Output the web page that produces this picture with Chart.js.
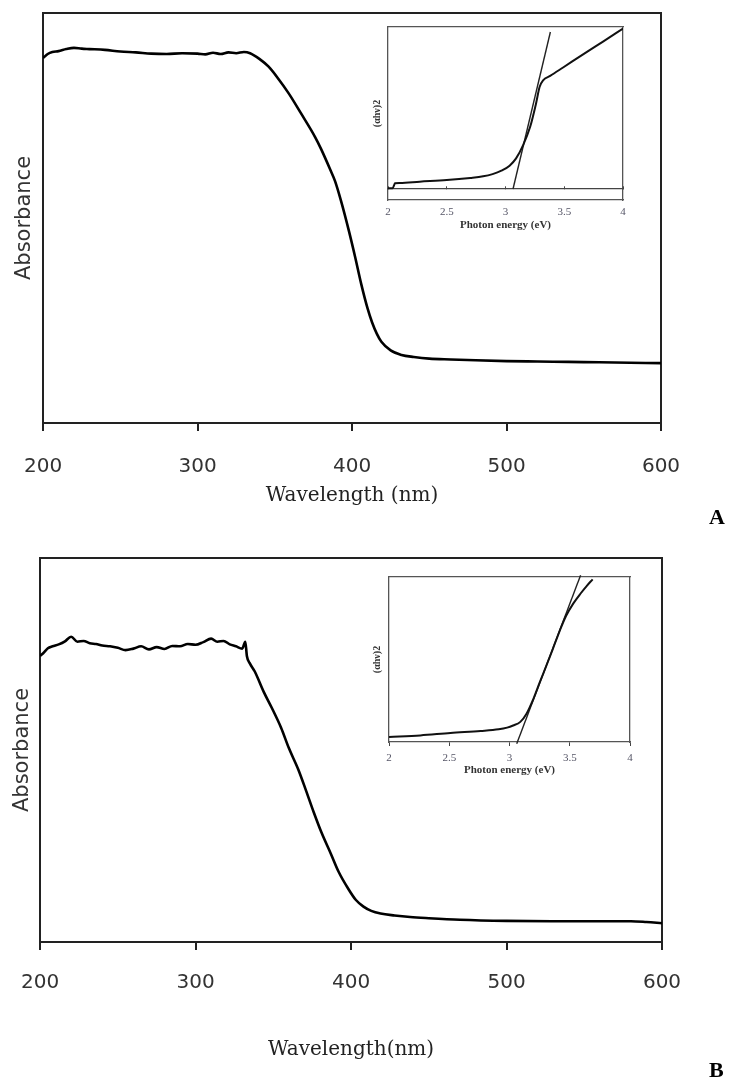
<!DOCTYPE html>
<html>
<head>
<meta charset="utf-8">
<script src="https://cdn.jsdelivr.net/npm/chart.js@4.4.1/dist/chart.umd.min.js"></script>
<style>
  body { margin: 0; background: #fff; }
  #page { position: relative; width: 733px; height: 1084px; background: #fff; overflow: hidden; }
  canvas { position: absolute; }
  .tag { position: absolute; font-family: 'Liberation Serif', serif; font-weight: bold; font-size: 22px; color: #000; }
</style>
</head>
<body>
<div id="page">
  <canvas id="mainA" width="733" height="520" style="left:0;top:0"></canvas>
  <canvas id="insetA" width="280" height="225" style="left:360px;top:15px"></canvas>
  <canvas id="mainB" width="733" height="564" style="left:0;top:520px"></canvas>
  <canvas id="insetB" width="280" height="225" style="left:360px;top:560px"></canvas>
  <div class="tag" style="left:709px;top:504px">A</div>
  <div class="tag" style="left:709px;top:1057px">B</div>
</div>
<script>
// ticks
const wavelengthTicks = [200, 300, 400, 500, 600]
const energyTicks = [2, 2.5, 3, 3.5, 4]

// panel A, main spectrum (absorbance in arbitrary units)
const wavelengthA = [200,203,206,210,215,220,225,230,240,250,260,270,280,290,300,305,310,315,320,325,330,334,340,346,352,359,367,376,380,386,389,393,398,402,406,410,413,416,419,425,432,440,450,464,480,500,520,540,560,580,600]
const absorbanceA = [0.890,0.900,0.905,0.907,0.912,0.915,0.913,0.912,0.910,0.906,0.904,0.901,0.900,0.902,0.901,0.899,0.903,0.900,0.904,0.902,0.905,0.902,0.888,0.869,0.841,0.804,0.755,0.698,0.668,0.617,0.590,0.540,0.468,0.405,0.338,0.280,0.245,0.218,0.198,0.177,0.166,0.161,0.157,0.155,0.153,0.151,0.150,0.149,0.148,0.147,0.146]

// panel A, inset (ahv)^2 vs photon energy
const energyA = [2.00,2.04,2.05,2.06,2.10,2.27,2.50,2.70,2.81,2.89,2.965,3.035,3.09,3.15,3.21,3.26,3.29,3.32,3.38,3.49,3.69,3.83,4.00]
const ahvA = [0.005,0.005,0.020,0.035,0.037,0.045,0.055,0.068,0.078,0.092,0.113,0.144,0.189,0.271,0.384,0.528,0.630,0.671,0.698,0.750,0.845,0.910,0.990]
const tangentEnergyA = [3.064, 3.382]
const tangentAhvA = [0, 0.969]

// panel B, main spectrum
const wavelengthB = [200,202,205,208,212,216,220,224,228,232,236,240,245,250,255,260,265,270,275,280,285,290,295,300,305,310,314,318,322,326,330,332,333,335,338,344,349,355,360,366,371,376,381,387,392,398,403,408,413,419,428,438,450,470,500,530,560,580,590,600]
const absorbanceB = [0.745,0.752,0.765,0.770,0.775,0.783,0.795,0.782,0.784,0.778,0.776,0.772,0.770,0.766,0.760,0.764,0.770,0.762,0.768,0.763,0.771,0.770,0.776,0.774,0.781,0.790,0.782,0.784,0.775,0.770,0.764,0.782,0.745,0.725,0.705,0.650,0.610,0.558,0.505,0.450,0.395,0.338,0.285,0.230,0.183,0.140,0.110,0.092,0.081,0.074,0.069,0.065,0.062,0.058,0.055,0.054,0.054,0.054,0.052,0.049]

// panel B, inset
const energyB = [2.00,2.26,2.51,2.76,2.91,2.98,3.03,3.09,3.14,3.20,3.25,3.31,3.36,3.42,3.47,3.53,3.59,3.64,3.69]
const ahvB = [0.030,0.040,0.055,0.067,0.077,0.087,0.100,0.122,0.170,0.265,0.360,0.470,0.565,0.680,0.765,0.840,0.900,0.945,0.986]
const tangentEnergyB = [3.06, 3.59]
const tangentAhvB = [-0.01, 1.01]

const pts = (xs, ys) => xs.map((x, i) => ({x: x, y: ys[i]}))

// plain frame line (top / right of the box), takes no room
function frame(axis, position, color, width){
    return {
        type: 'linear', axis: axis, position: position, display: true,
        ticks: {display: false}, grid: {display: false},
        border: {display: true, color: color, width: width},
        afterFit: s => { if (s.isHorizontal()) s.height = 0; else s.width = 0 }
    }
}

function mainChart(id, xs, ys, cfg){
    return new Chart(document.getElementById(id), {
        type: 'line',
        data: {
            datasets: [{
                data: pts(xs, ys),
                borderColor: '#000', borderWidth: 2.6,
                pointRadius: 0, cubicInterpolationMode: 'monotone',
                xAxisID: 'x', yAxisID: 'y'
            }]
        },
        options: {
            responsive: false, animation: false, devicePixelRatio: 1,
            layout: {padding: {top: cfg.top, left: 0, right: cfg.right, bottom: 0}},
            plugins: {legend: {display: false}, tooltip: {enabled: false}},
            scales: {
                x: {
                    type: 'linear', position: 'bottom', min: 200, max: 600,
                    afterBuildTicks: s => { s.ticks = wavelengthTicks.map(v => ({value: v})) },
                    afterFit: s => { s.height = cfg.xHeight },
                    grid: {display: true, drawOnChartArea: false, drawTicks: true, tickLength: 8, color: '#222', lineWidth: 2},
                    border: {display: true, color: '#222', width: 2},
                    ticks: {color: '#333', padding: cfg.tickPad, font: {family: 'DejaVu Sans', size: 20}},
                    title: {display: true, text: cfg.xTitle, color: '#222',
                        font: {family: 'DejaVu Serif', size: 20}, padding: {top: 0, bottom: cfg.titlePad}}
                },
                y: {
                    type: 'linear', position: 'left', min: 0, max: 1,
                    afterFit: s => { s.width = cfg.left },
                    grid: {display: false},
                    border: {display: true, color: '#222', width: 2},
                    ticks: {display: false},
                    title: {display: true, text: 'Absorbance', color: '#333',
                        font: {family: 'DejaVu Sans', size: 21}, padding: {top: 9, bottom: 0}}
                },
                xTop: frame('x', 'top', '#222', 2),
                yRight: frame('y', 'right', '#222', 2)
            }
        }
    })
}

function insetChart(id, xs, ys, tx, ty, cfg){
    const scales = {
        // bottom of the box, carries the labels and title
        x: {
            type: 'linear', position: 'bottom', min: 2, max: 4,
            afterBuildTicks: s => { s.ticks = energyTicks.map(v => ({value: v})) },
            afterFit: s => { s.height = cfg.xHeight },
            grid: {display: cfg.tickLen > 0, drawOnChartArea: false, drawTicks: cfg.tickLen > 0,
                tickLength: Math.max(cfg.tickLen, 0), color: '#444', lineWidth: 1},
            border: {display: true, color: '#555', width: 1.3},
            ticks: {color: '#556', padding: cfg.tickPad, font: {family: 'Liberation Serif', size: 11},
                callback: v => String(v)},
            title: {display: true, text: 'Photon energy (eV)', color: '#333',
                font: {family: 'Liberation Serif', size: 11, weight: 'bold'}, padding: {top: 0, bottom: cfg.titlePad}}
        },
        y: {
            type: 'linear', position: 'left', min: cfg.yMin, max: cfg.yMax,
            afterFit: s => { s.width = cfg.left },
            grid: {display: false}, ticks: {display: false},
            border: {display: true, color: '#555', width: 1.3},
            title: {display: true, text: '(αhν)2', color: '#333',
                font: {family: 'Liberation Serif', size: 10, weight: 'bold'}, padding: {top: 11, bottom: 0}}
        },
        xTop: frame('x', 'top', '#555', 1.3),
        yRight: frame('y', 'right', '#555', 1.3)
    }
    if (cfg.zeroLine) {
        // axis line crossing at y = 0 with small inward ticks
        scales.x0 = {
            type: 'linear', axis: 'x', position: {y: 0}, min: 2, max: 4, display: true,
            afterBuildTicks: s => { s.ticks = energyTicks.map(v => ({value: v})) },
            grid: {display: true, drawOnChartArea: false, drawTicks: true, tickLength: -3, color: '#444', lineWidth: 1},
            border: {display: true, color: '#444', width: 1.3},
            ticks: {display: false}
        }
    }
    return new Chart(document.getElementById(id), {
        type: 'line',
        data: {
            datasets: [
                {data: pts(xs, ys), borderColor: '#111', borderWidth: 2, pointRadius: 0,
                 cubicInterpolationMode: 'monotone', xAxisID: 'x', yAxisID: 'y'},
                {data: pts(tx, ty), borderColor: '#222', borderWidth: 1.4, pointRadius: 0,
                 xAxisID: 'x', yAxisID: 'y', clip: false}
            ]
        },
        options: {
            responsive: false, animation: false, devicePixelRatio: 1,
            layout: {padding: {top: cfg.top, left: 0, right: cfg.right, bottom: 0}},
            plugins: {legend: {display: false}, tooltip: {enabled: false}},
            scales: scales
        }
    })
}

mainChart('mainA', wavelengthA, absorbanceA, {top: 13, right: 72, left: 40, xHeight: 97, tickPad: 24, titlePad: 12, xTitle: 'Wavelength (nm)'})
mainChart('mainB', wavelengthB, absorbanceB, {top: 38, right: 71, left: 39, xHeight: 142, tickPad: 21, titlePad: 22, xTitle: 'Wavelength(nm)'})

insetChart('insetA', energyA, ahvA, tangentEnergyA, tangentAhvA,
    {zeroLine: true, yMin: -0.068, yMax: 1, top: 12, right: 17, left: 28,
     xHeight: 40, tickLen: 0, tickPad: 6, titlePad: 8})
insetChart('insetB', energyB, ahvB, tangentEnergyB, tangentAhvB,
    {zeroLine: false, yMin: 0, yMax: 1, top: 17, right: 10, left: 29,
     xHeight: 43, tickLen: 4, tickPad: 6, titlePad: 8})
</script>
</body>
</html>
